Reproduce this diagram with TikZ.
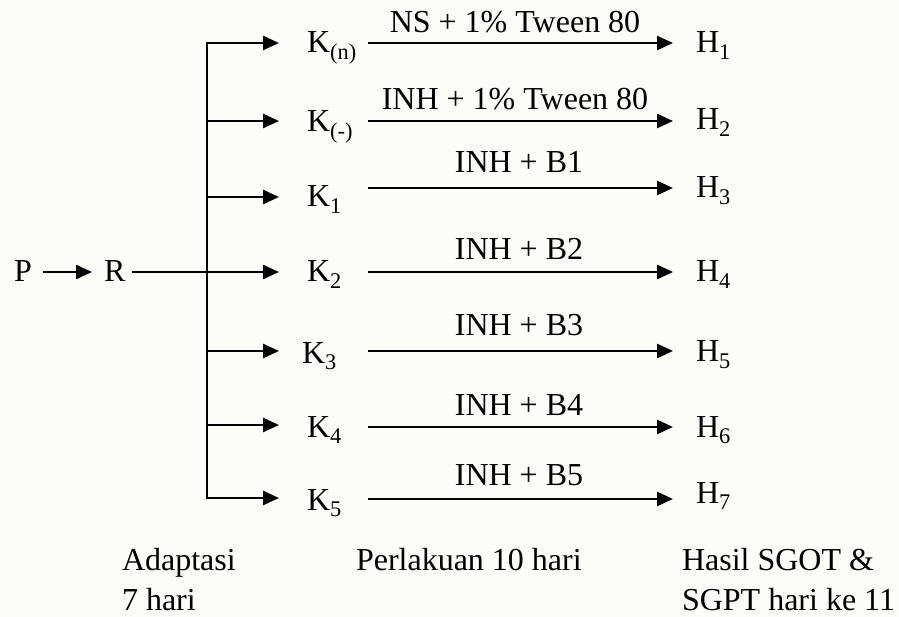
\documentclass[tikz,border=0pt]{standalone}
\usepackage{fontspec}
\setmainfont{Liberation Serif}
\usetikzlibrary{arrows.meta}
\definecolor{bgc}{RGB}{252,252,248}
\begin{document}
\begin{tikzpicture}[x=1pt,y=-1pt,
  font=\fontsize{32}{38}\selectfont,
  arr/.style={-{Triangle[length=16pt,width=14pt]}, line width=2.5pt},
  txt/.style={anchor=base west, inner sep=0pt, outer sep=0pt},
  lbl/.style={anchor=base, inner sep=0pt, outer sep=0pt}]
\fill[bgc] (0,0) rectangle (899,617);
\useasboundingbox (0,0) rectangle (899,617);

% left part
\node[txt] (P) at (14,282) {P};
\node[txt] (R) at (104,282) {R};
\coordinate (pa) at (43,272);
\coordinate (pb) at (92,272);
\draw[arr] (pa) -- (pb);

% K nodes
\node[txt] (Kn) at (307,53) {K\textsubscript{(n)}};
\node[txt] (Km) at (307,132) {K\textsubscript{(-)}};
\node[txt] (K1) at (307,207) {K\textsubscript{1}};
\node[txt] (K2) at (307,282) {K\textsubscript{2}};
\node[txt] (K3) at (302,363) {K\textsubscript{3}};
\node[txt] (K4) at (307,437) {K\textsubscript{4}};
\node[txt] (K5) at (307,510) {K\textsubscript{5}};

% branch coordinates
\coordinate (bn) at (207,43);
\coordinate (bm) at (207,121);
\coordinate (b1) at (207,197);
\coordinate (b2) at (207,272);
\coordinate (b3) at (207,351);
\coordinate (b4) at (207,425);
\coordinate (b5) at (207,498);
\coordinate (rs) at (132,272);

\draw[{Triangle[length=16pt,width=14pt]}-{Triangle[length=16pt,width=14pt]}, line width=2.5pt]
  (bn -| 279,0) -- (bn) -- (b5) -- (b5 -| 279,0);
\foreach \b in {bm,b1,b3,b4} \draw[arr] (\b) -- (\b -| 279,0);
\draw[arr] (rs) -- (b2 -| 279,0);

% H nodes
\node[txt] (H1) at (696,53) {H\textsubscript{1}};
\node[txt] (H2) at (696,130) {H\textsubscript{2}};
\node[txt] (H3) at (696,198) {H\textsubscript{3}};
\node[txt] (H4) at (696,282) {H\textsubscript{4}};
\node[txt] (H5) at (696,362) {H\textsubscript{5}};
\node[txt] (H6) at (696,437) {H\textsubscript{6}};
\node[txt] (H7) at (696,503) {H\textsubscript{7}};

% treatment arrows
\coordinate (sn) at (368,43);  \coordinate (en) at (673,43);
\coordinate (sm) at (368,121); \coordinate (em) at (673,121);
\coordinate (s1) at (368,188); \coordinate (e1) at (673,188);
\coordinate (s2) at (368,272); \coordinate (e2) at (673,272);
\coordinate (s3) at (368,351); \coordinate (e3) at (673,351);
\coordinate (s4) at (368,427); \coordinate (e4) at (673,427);
\coordinate (s5) at (368,499); \coordinate (e5) at (673,499);
\foreach \i in {n,m,1,2,3,4,5} \draw[arr] (s\i) -- (e\i);

\node[lbl] (Ln) at (515,33) {NS + 1\% Tween 80};
\node[lbl] (Lm) at (515,110) {INH + 1\% Tween 80};
\node[lbl] (L1) at (519,173) {INH + B1};
\node[lbl] (L2) at (519,260) {INH + B2};
\node[lbl] (L3) at (519,336) {INH + B3};
\node[lbl] (L4) at (519,415) {INH + B4};
\node[lbl] (L5) at (519,485) {INH + B5};

% bottom captions
\node[txt] (A1) at (122,570) {Adaptasi};
\node[txt] (A2) at (122,610) {7 hari};
\node[txt] (B1) at (356,570) {Perlakuan 10 hari};
\node[txt] (C1) at (682,570) {Hasil SGOT \&};
\node[txt] (C2) at (682,610) {SGPT hari ke 11};
\end{tikzpicture}
\end{document}
